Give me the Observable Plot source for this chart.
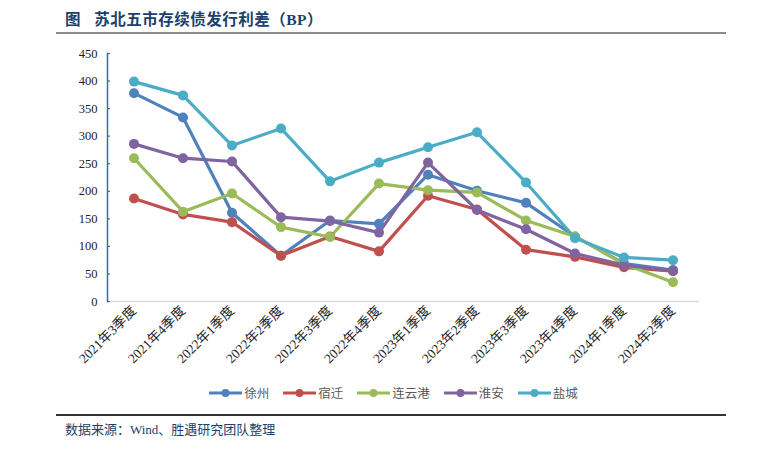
<!DOCTYPE html>
<html>
<head>
<meta charset="utf-8">
<script src="https://cdn.jsdelivr.net/npm/d3@7"></script>
<script src="https://cdn.jsdelivr.net/npm/@observablehq/plot@0.6"></script>
<style>
  html, body { margin: 0; padding: 0; background: #fff; }
  body { width: 769px; height: 454px; position: relative; overflow: hidden; font-family: "Liberation Serif", "Noto Sans CJK SC", serif; }
  #title { position: absolute; left: 65px; top: 7px; font-size: 15.5px; font-weight: bold; color: #203f6b; font-family: "Liberation Serif", "Noto Sans CJK SC", serif; letter-spacing: 0.5px; z-index: 2; }
  #titleline { position: absolute; left: 56px; top: 32px; width: 670px; height: 2px; background: #8c8c8c; z-index: 2; }
  #chart { position: absolute; left: 0; top: 0; z-index: 1; }
  #legend { position: absolute; top: 383px; left: 0; width: 769px; display: flex; justify-content: center; padding-left: 18px; box-sizing: border-box; z-index: 2; }
  .item { display: flex; align-items: center; margin: 0 7px; font-size: 12.5px; color: #595959; font-family: "Noto Sans CJK SC", sans-serif; }
  .item svg { margin-right: 2px; }
  #footline { position: absolute; left: 56px; top: 414px; width: 670px; height: 1.5px; background: #333; z-index: 2; }
  #source { position: absolute; left: 65px; top: 419px; font-size: 13px; color: #203f6b; font-family: "Liberation Serif", "Noto Sans CJK SC", serif; z-index: 2; }
</style>
</head>
<body>
<div id="title">图&nbsp;&nbsp;&nbsp;苏北五市存续债发行利差（BP）</div>
<div id="titleline"></div>
<div id="chart"></div>
<div id="legend"></div>
<div id="footline"></div>
<div id="source">数据来源：Wind、胜遇研究团队整理</div>
<script>
const quarters = ["2021年3季度","2021年4季度","2022年1季度","2022年2季度","2022年3季度","2022年4季度","2023年1季度","2023年2季度","2023年3季度","2023年4季度","2024年1季度","2024年2季度"];
const cities = ["徐州","宿迁","连云港","淮安","盐城"];
const colors = ["#4f81bd","#c0504d","#9bbb59","#8064a2","#4bacc6"];
const xuzhou    = [378, 334, 161, 83, 147, 141, 230, 201, 179, 118, 69, 57];
const suqian    = [187, 158, 144, 83, 118, 91, 192, 167, 94, 81, 62, 55];
const lianyungang = [260, 163, 196, 135, 117, 214, 202, 198, 147, 118, 68, 35];
const huaian    = [286, 260, 254, 153, 146, 125, 252, 166, 131, 87, 66, 56];
const yancheng  = [399, 374, 283, 314, 218, 252, 280, 307, 216, 115, 80, 75];
const yTicks = [0, 50, 100, 150, 200, 250, 300, 350, 400, 450];

const seriesValues = [xuzhou, suqian, lianyungang, huaian, yancheng];
const data = [];
cities.forEach((c, i) => quarters.forEach((q, j) => data.push({city: c, quarter: q, value: seriesValues[i][j]})));

const W = 769, H = 380, mL = 107, mR = 70, mT = 53, mB = 79;
const plotW = W - mL - mR;

const chart = Plot.plot({
  width: W, height: H,
  marginLeft: mL, marginRight: mR, marginTop: mT, marginBottom: mB,
  style: {background: "transparent", fontFamily: "'Liberation Serif', 'Noto Sans CJK SC', serif", fontSize: "12.5px", color: "#222"},
  x: {type: "band", domain: quarters, padding: 0, align: 0.5},
  y: {domain: [0, 450]},
  color: {domain: cities, range: colors},
  marks: [
    Plot.ruleY([0], {stroke: "#d9d9d9", strokeWidth: 1.5}),
    Plot.frame({anchor: "left", stroke: "#3f6aa0", strokeWidth: 1.5}),
    Plot.tickY(yTicks, {y: d => d, stroke: "#3f6aa0", strokeWidth: 1.2, insetRight: plotW - 3}),
    Plot.axisY({ticks: yTicks, tickSize: 0, tickPadding: 10, label: null, fill: "#222"}),
    Plot.axisX({tickSize: 0, tickRotate: -45, tickPadding: 7, label: null, fontSize: 13.5, fill: "#222"}),
    Plot.line(data, {x: "quarter", y: "value", z: "city", stroke: "city", strokeWidth: 3.2, strokeLinejoin: "round"}),
    Plot.dot(data, {x: "quarter", y: "value", fill: "city", r: 5, stroke: "none"})
  ]
});
document.getElementById("chart").appendChild(chart);

const legend = document.getElementById("legend");
cities.forEach((c, i) => {
  const item = document.createElement("div");
  item.className = "item";
  item.innerHTML = `<svg width="33" height="12"><line x1="0" y1="6" x2="33" y2="6" stroke="${colors[i]}" stroke-width="3"/><circle cx="16.5" cy="6" r="4" fill="${colors[i]}"/></svg><span>${c}</span>`;
  legend.appendChild(item);
});
</script>
</body>
</html>
